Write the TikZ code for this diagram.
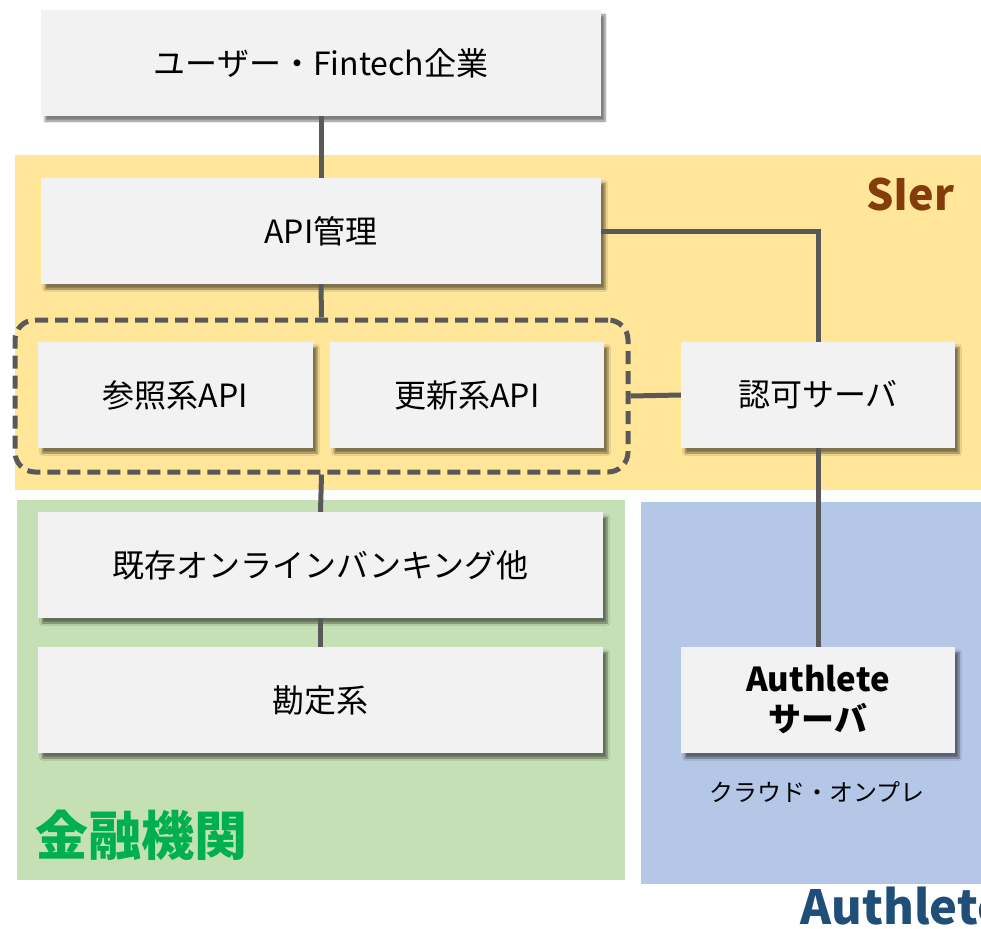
\documentclass[tikz,border=0pt]{standalone}
\usepackage{fontspec}
\setmainfont{Noto Sans CJK JP}
\usetikzlibrary{shadows.blur}
\definecolor{ylw}{HTML}{FFE699}
\definecolor{grn}{HTML}{C5E0B4}
\definecolor{blu}{HTML}{B4C7E7}
\definecolor{boxc}{HTML}{F2F2F2}
\definecolor{linec}{HTML}{595959}
\definecolor{sierc}{HTML}{843C0C}
\definecolor{bankc}{HTML}{00B050}
\definecolor{authc}{HTML}{1F4E79}
\tikzset{
  box/.style={rectangle, fill=boxc, minimum height=106pt, inner sep=0pt,
    font=\fontsize{32}{38}\selectfont, align=center,
    blur shadow={shadow xshift=4pt, shadow yshift=-5pt, shadow blur steps=6, shadow opacity=50}},
  conn/.style={draw=linec, line width=5pt},
  grp/.style={rectangle, draw=linec, line width=5pt, dash pattern=on 13pt off 7pt, rounded corners=20pt, inner sep=0pt},
}
\begin{document}
\begin{tikzpicture}[x=1pt,y=-1pt]
\useasboundingbox (0,0) rectangle (981,928);
% background bands
\fill[ylw] (15,155) rectangle (981,490);
\fill[grn] (17,500) rectangle (625,880);
\fill[blu] (641,502) rectangle (981,884);
% group labels
\node[anchor=east, text=sierc, font=\fontsize{43}{50}\selectfont\bfseries] (sier) at (958,195) {SIer};
\node[anchor=west, text=bankc, font=\fontsize{53}{60}\selectfont\bfseries] (bank lbl) at (32,835) {金融機関};
\node[anchor=west, text=authc, font=\fontsize{47}{54}\selectfont\bfseries] (auth lbl) at (797,906) {Authlete};
% boxes
\node[box, minimum width=560pt] (top) at (321,63) {ユーザー・Fintech企業};
\node[box, minimum width=560pt] (api) at (321,231) {API管理};
\node[grp, minimum width=613pt, minimum height=152pt] (grp) at (321.5,396) {};
\node[box, minimum width=275pt] (ref) at (175.5,395) {参照系API};
\node[box, minimum width=274pt] (upd) at (467,395) {更新系API};
\node[box, minimum width=274pt] (authz) at (818,395) {認可サーバ};
\node[box, minimum width=565pt] (onl) at (320.5,565) {既存オンラインバンキング他};
\node[box, minimum width=565pt] (acct) at (320.5,700) {勘定系};
\node[box, minimum width=274pt, font=\fontsize{33}{40}\selectfont\bfseries] (authl) at (818,700) {Authlete\\サーバ};
\node[font=\fontsize{24}{28}\selectfont] (cloud) at (817,792) {クラウド・オンプレ};
% connectors
\draw[conn] (top.south) -- (api.north);
\draw[conn] (api.south) -- (grp.north);
\draw[conn] (grp.south) -- (onl.north);
\draw[conn] (onl.south) -- (acct.north);
\draw[conn] (api.east) -| (authz.north);
\draw[conn] (grp.east) -- (authz.west);
\draw[conn] (authz.south) -- (authl.north);
\end{tikzpicture}
\end{document}
